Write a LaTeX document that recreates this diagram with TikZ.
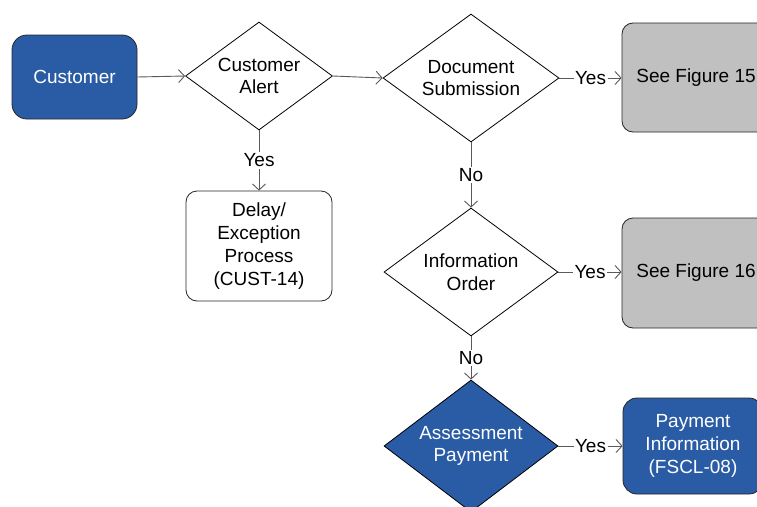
\documentclass[tikz,border=0pt]{standalone}
\usepackage{fontspec}
\setmainfont{Liberation Sans}
\usetikzlibrary{shapes.geometric,arrows.meta}
\definecolor{flowblue}{HTML}{2A5CA5}
\definecolor{flowgray}{HTML}{C0C0C0}
\definecolor{linkgray}{HTML}{5A5A5A}
\begin{document}
\begin{tikzpicture}[x=1pt,y=-1pt,
  every node/.style={font=\fontsize{19}{22.8}\selectfont, align=center},
  decision/.style={diamond, aspect=1.36, draw=black, line width=0.8pt, inner sep=0pt, fill=white},
  bluedecision/.style={decision, fill=flowblue, text=white},
  process/.style={rectangle, rounded corners=11pt, draw=black!85, line width=0.8pt, inner sep=0pt},
  link/.style={draw=linkgray, line width=0.9pt, -{Straight Barb[length=6pt,width=13pt,line width=0.9pt]}},
  choice/.style={fill=white, inner sep=1.5pt, text=black}]
\useasboundingbox (0,0) rectangle (757,506);
\clip (0,0) rectangle (757,506);
\fill[white] (0,0) rectangle (757,506);

% start node
\node[process, fill=flowblue, text=white, minimum width=125pt, minimum height=84pt, rounded corners=15pt]
  (cust) at (74.5,77) {Customer};

% decisions
\node[decision, minimum width=147pt, minimum height=108pt] (alert) at (259,76) {Customer\\Alert};
\node[decision, minimum width=176pt, minimum height=128pt] (docsub) at (471,78) {Document\\Submission};
\node[decision, minimum width=174pt, minimum height=128pt] (info) at (471,272) {Information\\Order};
\node[bluedecision, minimum width=174pt, minimum height=132pt] (assess) at (471,446) {Assessment\\Payment};

% outcomes
\node[process, fill=white, minimum width=146pt, minimum height=110pt] (delay) at (259,246)
  {Delay/\\Exception\\Process\\(CUST-14)};
\node[process, fill=flowgray, minimum width=148pt, minimum height=109pt] (fig15) at (696,77.5) {See Figure 15};
\node[process, fill=flowgray, minimum width=148pt, minimum height=110pt] (fig16) at (696,273) {See Figure 16};
\node[process, fill=flowblue, text=white, minimum width=140pt, minimum height=96pt, rounded corners=14pt]
  (pay) at (693,446) {Payment\\Information\\(FSCL-08)};

% connectors
\draw[link] (cust.east) -- (alert.west);
\draw[link] (alert.east) -- (docsub.west);
\draw[link] (alert.south) -- node[choice] {Yes} (delay.north);
\draw[link] (docsub.east) -- node[choice] {Yes} (docsub.east -| fig15.west);
\draw[link] (docsub.south) -- node[choice] {No} (info.north);
\draw[link] (info.east) -- node[choice] {Yes} (info.east -| fig16.west);
\draw[link] (info.south) -- node[choice] {No} (assess.north);
\draw[link] (assess.east) -- node[choice] {Yes} (assess.east -| pay.west);
\end{tikzpicture}
\end{document}
